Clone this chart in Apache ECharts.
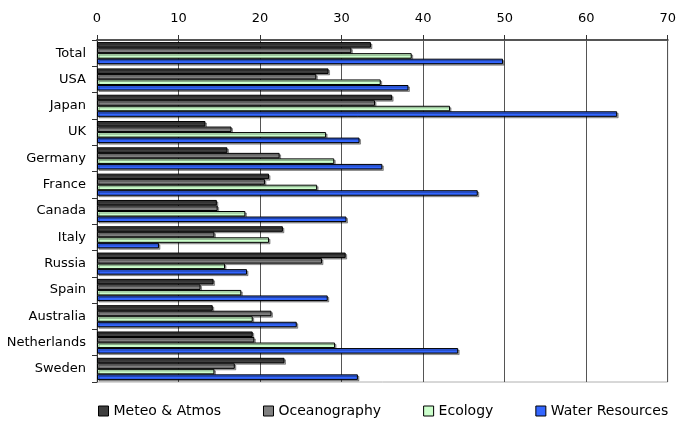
<!DOCTYPE html>
<html>
<head>
<meta charset="utf-8">
<script src="https://cdn.jsdelivr.net/npm/echarts@6/dist/echarts.min.js"></script>
<style>
  html, body { margin: 0; padding: 0; background: #fff; }
  #main { width: 679px; height: 423px; }
</style>
</head>
<body>
<div id="main"></div>
<script>
// countries, top to bottom
const countries = ['Total', 'USA', 'Japan', 'UK', 'Germany', 'France', 'Canada',
  'Italy', 'Russia', 'Spain', 'Australia', 'Netherlands', 'Sweden']

const meteo = [33.6, 28.4, 36.2, 13.3, 16.0, 21.1, 14.7, 22.8, 30.5, 14.3, 14.2, 19.1, 23.0]
const oceano = [31.2, 26.9, 34.1, 16.5, 22.4, 20.6, 14.8, 14.4, 27.6, 12.7, 21.4, 19.3, 16.9]
const ecology = [38.6, 34.8, 43.3, 28.1, 29.1, 27.0, 18.2, 21.1, 15.7, 17.7, 19.1, 29.2, 14.4]
const water = [49.8, 38.2, 63.8, 32.2, 35.0, 46.7, 30.6, 7.6, 18.4, 28.3, 24.5, 44.3, 32.0]

const xTicks = [0, 10, 20, 30, 40, 50, 60, 70]

const font = 'DejaVu Sans'

function bar(name, data, color) {
    return {
        name: name,
        type: 'bar',
        data: data,
        barGap: '0%',
        barCategoryGap: '16%',
        itemStyle: {
            color: color,
            borderColor: '#000',
            borderWidth: 1,
            shadowColor: 'rgba(0,0,0,0.35)',
            shadowOffsetX: 1.5,
            shadowOffsetY: 1.5,
            shadowBlur: 0
        },
        emphasis: { disabled: true }
    }
}

const chart = echarts.init(document.getElementById('main'))
const option = {
    animation: false,
    grid: {
        left: 97, right: 9, top: 40, bottom: 41,
        show: true, borderColor: '#b0b0b0', borderWidth: 1
    },
    legend: {
        bottom: 0,
        left: 93,
        itemWidth: 10,
        itemHeight: 10,
        itemGap: 42,
        icon: 'rect',
        textStyle: { fontFamily: font, fontSize: 14, color: '#000' },
        itemStyle: { borderColor: '#000', borderWidth: 1, shadowBlur: 0, shadowOffsetX: 0, shadowOffsetY: 0 },
        data: ['Meteo & Atmos', 'Oceanography', 'Ecology', 'Water Resources']
    },
    xAxis: {
        type: 'value',
        position: 'top',
        min: xTicks[0],
        max: xTicks[xTicks.length - 1],
        interval: 10,
        axisLine: { show: true, lineStyle: { color: '#555', width: 2 } },
        axisTick: { show: true, length: 5, lineStyle: { color: '#333' } },
        axisLabel: { fontFamily: font, fontSize: 13, color: '#000', margin: 15 },
        splitLine: { show: true, lineStyle: { color: '#555', width: 1 } }
    },
    yAxis: {
        type: 'category',
        data: countries,
        inverse: true,
        axisLine: { show: true, lineStyle: { color: '#333', width: 1 } },
        axisTick: { show: true, length: 5, lineStyle: { color: '#333' } },
        axisLabel: { fontFamily: font, fontSize: 13, color: '#000', margin: 11 }
    },
    series: [
        bar('Meteo & Atmos', meteo, '#3f3f3f'),
        bar('Oceanography', oceano, '#808080'),
        bar('Ecology', ecology, '#ccffcc'),
        bar('Water Resources', water, '#3366ff')
    ]
}
chart.setOption(option)
</script>
</body>
</html>
